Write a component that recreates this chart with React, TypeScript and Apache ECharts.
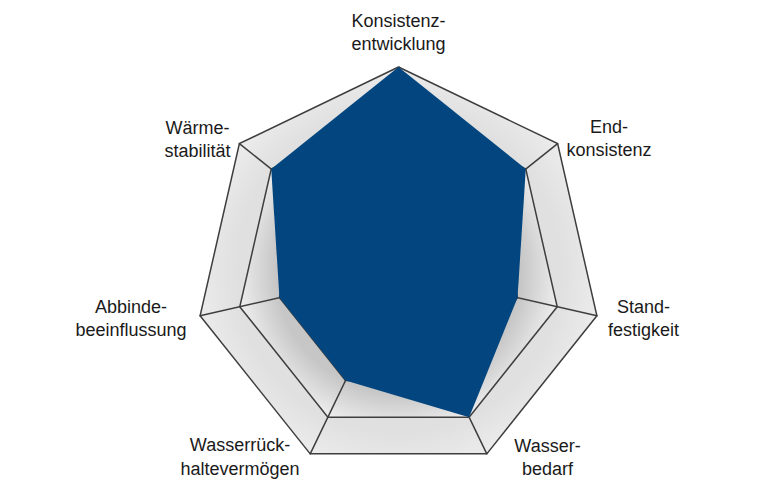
import React, { useEffect, useRef } from "react";
import * as echarts from "echarts";

const indicators = [
  "Konsistenz-\nentwicklung",
  "Wärme-\nstabilität",
  "Abbinde-\nbeeinflussung",
  "Wasserrück-\nhaltevermögen",
  "Wasser-\nbedarf",
  "Stand-\nfestigkeit",
  "End-\nkonsistenz",
];
const values = [1.0, 0.8, 0.6, 0.6, 0.8, 0.6, 0.8];
const scaleMax = 1;

// label anchor offsets (px) from each axis end
const labelOffsets: [number, number][] = [
  [0, -34.5],
  [-41.9, -4.1],
  [-69.1, 2.6],
  [-70.2, 3.4],
  [60.7, 3.6],
  [46.6, 2.9],
  [51.4, -5.2],
];

const CX = 398.5;
const CY = 270.5;
const R = 203.5;
const LINE_GAP = 23.5;

export default function App() {
  const ref = useRef<HTMLDivElement>(null);
  useEffect(() => {
    if (!ref.current) return;
    const chart = echarts.init(ref.current, undefined, { renderer: "svg" });
    const n = indicators.length;
    const labels: any[] = [];
    indicators.forEach((name, i) => {
      const a = Math.PI / 2 + (i * 2 * Math.PI) / n;
      const vx = CX + R * Math.cos(a);
      const vy = CY - R * Math.sin(a);
      const lines = name.split("\n");
      const cx = vx + labelOffsets[i][0];
      const cy = vy + labelOffsets[i][1];
      lines.forEach((line, k) => {
        labels.push({
          type: "text",
          x: cx,
          y: cy + (k - (lines.length - 1) / 2) * LINE_GAP,
          style: {
            text: line,
            align: "center",
            verticalAlign: "middle",
            fontFamily: "'Liberation Sans', Arial, sans-serif",
            fontSize: 18,
            lineHeight: 16,
            fill: "#1a1a1a",
          },
        });
      });
    });
    const band = (c0: string, c1: string, o0: number, o1: number) => ({
      type: "radial",
      x: CX,
      y: CY,
      r: R,
      global: true,
      colorStops: [
        { offset: 0, color: c0 },
        { offset: o0, color: c0 },
        { offset: o1, color: c1 },
        { offset: 1, color: c1 },
      ],
    });
    chart.setOption({
      animation: false,
      backgroundColor: "#ffffff",
      radar: {
        center: [CX, CY],
        radius: R,
        startAngle: 90,
        splitNumber: 5,
        shape: "polygon",
        indicator: indicators.map((name) => ({ name, min: 0, max: scaleMax })),
        axisName: { show: false },
        axisLine: { show: true, lineStyle: { color: "#3e3e3e", width: 1.5 } },
        axisTick: { show: false },
        axisLabel: { show: false },
        splitLine: {
          show: true,
          lineStyle: {
            color: ["transparent", "transparent", "transparent", "#3e3e3e", "#3e3e3e", "#3e3e3e"],
            width: 1.5,
          },
        },
        splitArea: {
          show: true,
          areaStyle: {
            color: [
              "#d0d0d0",
              "#d0d0d0",
              "#d0d0d0",
              band("#c6c6c6", "#efefef", 0.6, 0.8),
              band("#e0e0e0", "#ececec", 0.8, 1.0),
            ],
          },
        },
      },
      series: [
        {
          type: "radar",
          symbol: "none",
          lineStyle: { width: 0 },
          areaStyle: { color: "#03467f", opacity: 1 },
          data: [{ value: values, name: "Profil" }],
        },
      ],
      graphic: labels,
    });
    return () => chart.dispose();
  }, []);
  return (
    <div
      ref={ref}
      style={{ position: "absolute", left: 0, top: 0, width: 765, height: 479 }}
    />
  );
}
